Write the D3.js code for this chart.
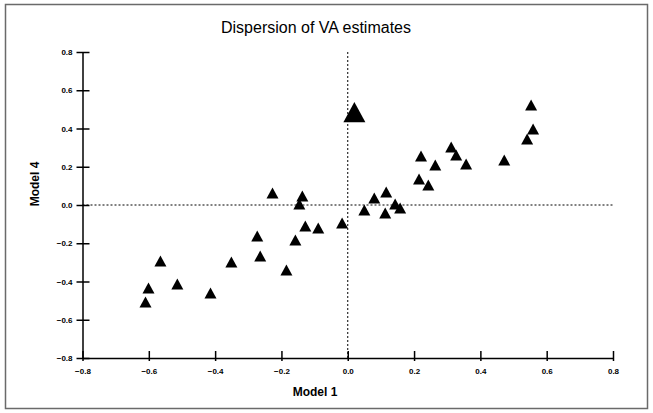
<!DOCTYPE html>
<html>
<head>
<meta charset="utf-8">
<script src="https://cdn.jsdelivr.net/npm/d3@7"></script>
<style>
  body { margin: 0; background: #fff; }
  svg { display: block; font-family: "Liberation Sans", Arial, sans-serif; }
</style>
</head>
<body>
<div id="chart"></div>
<script>
// Chart data: VA estimates under Model 1 (x) and Model 4 (y)
var model1 = [0.020, 0.553, 0.559, 0.541, 0.472, 0.312, 0.327, 0.357, 0.221, 0.264,
              0.215, 0.243, 0.116, 0.080, 0.143, 0.158, 0.050, 0.113, -0.017, -0.227,
              -0.137, -0.146, -0.128, -0.089, -0.273, -0.158, -0.264, -0.185, -0.565, -0.351,
              -0.514, -0.601, -0.414, -0.610];
var model4 = [0.486, 0.523, 0.397, 0.345, 0.235, 0.303, 0.261, 0.214, 0.256, 0.209,
              0.136, 0.105, 0.068, 0.037, 0.005, -0.016, -0.026, -0.042, -0.094, 0.063,
              0.047, 0.005, -0.110, -0.120, -0.162, -0.183, -0.267, -0.340, -0.293, -0.298,
              -0.413, -0.434, -0.460, -0.507];
// index of the highlighted estimate (drawn with the large marker)
var highlighted = [0];
var tickValues = [-0.8, -0.6, -0.4, -0.2, 0.0, 0.2, 0.4, 0.6, 0.8];
var title = 'Dispersion of VA estimates';
var xLabel = 'Model 1';
var yLabel = 'Model 4';

var width = 653, height = 413;

var svg = d3.select('#chart').append('svg')
  .attr('width', width)
  .attr('height', height);

// outer frame
svg.append('rect')
  .attr('x', 5.5).attr('y', 4.5)
  .attr('width', 642).attr('height', 404)
  .attr('fill', 'none')
  .attr('stroke', '#6a6a6a')
  .attr('stroke-width', 1.5);

// Scales
var x = d3.scaleLinear().domain([-0.8, 0.8]).range([82.5, 613]);
var y = d3.scaleLinear().domain([-0.8, 0.8]).range([358, 52]);

var fmt = d3.format('.1f');

// Zero reference lines (dotted)
svg.append('line')
  .attr('x1', x(0)).attr('x2', x(0))
  .attr('y1', y(0.8)).attr('y2', y(-0.8))
  .attr('stroke', '#000').attr('stroke-width', 1)
  .attr('stroke-dasharray', '2,2');
svg.append('line')
  .attr('x1', x(-0.8)).attr('x2', x(0.8))
  .attr('y1', y(0)).attr('y2', y(0))
  .attr('stroke', '#000').attr('stroke-width', 1)
  .attr('stroke-dasharray', '2,2');

// X axis
var xAxis = svg.append('g')
  .attr('transform', 'translate(0,' + y(-0.8) + ')')
  .call(d3.axisBottom(x).tickValues(tickValues).tickFormat(fmt).tickSizeInner(-7).tickSizeOuter(0).tickPadding(10));
xAxis.select('.domain').attr('stroke-width', 1.5);
xAxis.selectAll('.tick line').attr('stroke-width', 1.5).attr('y2', -7).attr('y1', 3);
xAxis.selectAll('.tick text')
  .style('font-size', '8px').style('font-weight', 'bold').attr('fill', '#000');

// Y axis (ticks cross the axis line)
var yAxis = svg.append('g')
  .attr('transform', 'translate(' + x(-0.8) + ',0)')
  .call(d3.axisLeft(y).tickValues(tickValues).tickFormat(fmt).tickSizeInner(7).tickSizeOuter(0).tickPadding(3));
yAxis.select('.domain').attr('stroke-width', 1.5);
yAxis.selectAll('.tick line').attr('stroke-width', 1.5).attr('x1', 7).attr('x2', -6);
yAxis.selectAll('.tick text')
  .style('font-size', '8px').style('font-weight', 'bold').attr('fill', '#000');

// Triangle marker centred on its bounding box
var triangle = {
  draw: function(ctx, size) {
    var w = Math.sqrt(size), h = w * 0.92;
    ctx.moveTo(0, -h / 2);
    ctx.lineTo(w / 2, h / 2);
    ctx.lineTo(-w / 2, h / 2);
    ctx.closePath();
  }
};

var points = model1.map(function(v, i) {
  return { x: v, y: model4[i], big: highlighted.indexOf(i) >= 0 };
});

svg.append('g').selectAll('path')
  .data(points)
  .enter().append('path')
  .attr('transform', function(d) { return 'translate(' + x(d.x) + ',' + y(d.y) + ')'; })
  .attr('d', function(d) { return d3.symbol().type(triangle).size(d.big ? 484 : 144)(); })
  .attr('fill', '#000');

// Title and axis labels
svg.append('text')
  .attr('x', 316).attr('y', 33)
  .attr('text-anchor', 'middle')
  .style('font-size', '16px')
  .text(title);

svg.append('text')
  .attr('x', 315).attr('y', 396)
  .attr('text-anchor', 'middle')
  .style('font-size', '12px').style('font-weight', 'bold')
  .text(xLabel);

svg.append('text')
  .attr('transform', 'translate(39,184) rotate(-90)')
  .attr('text-anchor', 'middle')
  .style('font-size', '12px').style('font-weight', 'bold')
  .text(yLabel);
</script>
</body>
</html>
